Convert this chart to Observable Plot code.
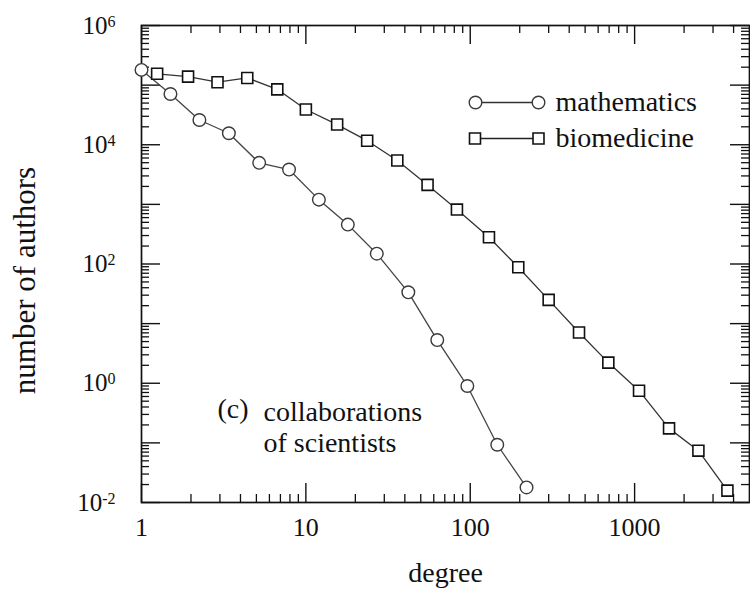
<!DOCTYPE html>
<html><head><meta charset="utf-8">
<script src="https://cdn.jsdelivr.net/npm/d3@7"></script>
<script src="https://cdn.jsdelivr.net/npm/@observablehq/plot@0.6"></script>
<style>body{margin:0;background:#fff;} svg{display:block} svg text{font-family:'Liberation Serif','Times New Roman',Times,serif;}</style>
</head><body><div id="chart"></div>
<script>
// ---- data ----
const mathDegree  = [1, 1.5, 2.25, 3.4, 5.2, 7.9, 12, 18, 27, 42, 63, 96, 146, 220];
const mathAuthors = [1.8e5, 7.1e4, 2.6e4, 1.56e4, 4970, 3840, 1200, 458, 149, 33.5, 5.3, 0.9, 0.093, 0.0179];
const bioDegree   = [1.245, 1.92, 2.9, 4.4, 6.7, 10, 15.5, 23.6, 36, 55, 83, 130, 196, 300, 459, 692, 1064, 1620, 2444, 3670];
const bioAuthors  = [1.55e5, 1.39e5, 1.12e5, 1.32e5, 8.5e4, 3.9e4, 2.18e4, 1.17e4, 5430, 2120, 818, 281, 88, 25, 7.1, 2.22, 0.75, 0.175, 0.074, 0.0158];
const seriesNames = ["mathematics", "biomedicine"];
const xTickLabels = [1, 10, 100, 1000];
const yTickLabels = [1e-2, 1e0, 1e2, 1e4, 1e6];
const yExponents  = ["-2", "0", "2", "4", "6"];
const xLabel = "degree";
const yLabel = "number of authors";
const panelTag = "(c)";
const panelText = "collaborations\nof scientists";

// ---- tick positions ----
const xMajor = [1, 10, 100, 1000];
const xMinor = [];
for (const dec of [1, 10, 100, 1000]) for (let k = 2; k <= 9; k++) if (dec * k < 5000) xMinor.push(dec * k);
const yMajor = [];
const yMinor = [];
for (let e = -2; e <= 6; e++) {
  yMajor.push(Math.pow(10, e));
  if (e < 6) for (let k = 2; k <= 9; k++) yMinor.push(k * Math.pow(10, e));
}

const W = 750, H = 599, mL = 141, mR = 1, mT = 25, mB = 97;
const pw = W - mL - mR, ph = H - mT - mB;
const font = "'Liberation Serif', 'Times New Roman', Times, serif";
const ink = "#111";
const math = mathDegree.map((d, i) => ({x: d, y: mathAuthors[i]}));
const bio = bioDegree.map((d, i) => ({x: d, y: bioAuthors[i]}));

const circleStyle = {symbol: "circle", r: 6.3, fill: "white", stroke: "#3a3a3a", strokeWidth: 1.4};
const squareStyle = {symbol: "square", r: 6.2, fill: "white", stroke: "#111", strokeWidth: 1.6};
const legendLine = {draw(ctx) { ctx.moveTo(-31.5, 0); ctx.lineTo(31.5, 0); }};
const txt = {fontFamily: font, fill: ink};

const chart = Plot.plot({
  width: W, height: H,
  marginLeft: mL, marginRight: mR, marginTop: mT, marginBottom: mB,
  style: "background:#fff;color:#111;font-family:" + font + ";",
  x: {type: "log", domain: [1, 5000], axis: null},
  y: {type: "log", domain: [1e-2, 1e6], axis: null},
  marks: [
    // ticks (inward, mirrored)
    Plot.tickX(xMajor, {x: d => d, insetTop: ph - 19, stroke: ink, strokeWidth: 1.4}),
    Plot.tickX(xMajor, {x: d => d, insetBottom: ph - 19, stroke: ink, strokeWidth: 1.4}),
    Plot.tickX(xMinor, {x: d => d, insetTop: ph - 8, stroke: ink, strokeWidth: 1.3}),
    Plot.tickX(xMinor, {x: d => d, insetBottom: ph - 8, stroke: ink, strokeWidth: 1.3}),
    Plot.tickY(yMajor, {y: d => d, insetRight: pw - 19, stroke: ink, strokeWidth: 1.4}),
    Plot.tickY(yMajor, {y: d => d, insetLeft: pw - 19, stroke: ink, strokeWidth: 1.4}),
    Plot.tickY(yMinor, {y: d => d, insetRight: pw - 8, stroke: ink, strokeWidth: 1.3}),
    Plot.tickY(yMinor, {y: d => d, insetLeft: pw - 8, stroke: ink, strokeWidth: 1.3}),
    Plot.frame({stroke: ink, strokeWidth: 1.7}),
    // tick labels
    Plot.text(xTickLabels, {x: d => d, text: d => String(d), frameAnchor: "bottom", textAnchor: "middle", lineAnchor: "top", dy: 15, fontSize: 26, ...txt}),
    Plot.text(yTickLabels, {y: d => d, text: (d, i) => "10^" + yExponents[i], frameAnchor: "left", textAnchor: "end", dx: -26, fontSize: 25, ...txt}),
    // axis labels
    Plot.text([xLabel], {text: d => d, frameAnchor: "bottom", textAnchor: "middle", dy: 79, fontSize: 28, ...txt}),
    Plot.text([yLabel], {text: d => d, frameAnchor: "left", textAnchor: "middle", rotate: -90, dx: -116, dy: 16.5, fontSize: 31, ...txt}),
    // series
    Plot.line(math, {x: "x", y: "y", stroke: "#444", strokeWidth: 1.3}),
    Plot.line(bio, {x: "x", y: "y", stroke: "#333", strokeWidth: 1.3}),
    Plot.dot(math, {x: "x", y: "y", ...circleStyle}),
    Plot.dot(bio, {x: "x", y: "y", ...squareStyle}),
    // legend
    Plot.dot([seriesNames[0]], {frameAnchor: "top-left", dx: 365.5, dy: 77, symbol: legendLine, fill: "none", stroke: "#333", strokeWidth: 1.4}),
    Plot.dot([seriesNames[0]], {frameAnchor: "top-left", dx: 334, dy: 77, ...circleStyle}),
    Plot.dot([seriesNames[0]], {frameAnchor: "top-left", dx: 397, dy: 77, ...circleStyle}),
    Plot.text([seriesNames[0]], {text: d => d, frameAnchor: "top-left", dx: 414, dy: 77, textAnchor: "start", lineAnchor: "middle", fontSize: 28, ...txt}),
    Plot.dot([seriesNames[1]], {frameAnchor: "top-left", dx: 365.5, dy: 113, symbol: legendLine, fill: "none", stroke: "#222", strokeWidth: 1.4}),
    Plot.dot([seriesNames[1]], {frameAnchor: "top-left", dx: 333.5, dy: 113, ...squareStyle}),
    Plot.dot([seriesNames[1]], {frameAnchor: "top-left", dx: 397, dy: 113, ...squareStyle}),
    Plot.text([seriesNames[1]], {text: d => d, frameAnchor: "top-left", dx: 414, dy: 113, textAnchor: "start", lineAnchor: "middle", fontSize: 28, ...txt}),
    // panel annotation
    Plot.text([panelTag], {text: d => d, frameAnchor: "top-left", dx: 76, dy: 373, lineAnchor: "top", textAnchor: "start", fontSize: 28, ...txt}),
    Plot.text([panelText], {text: d => d, frameAnchor: "top-left", dx: 122, dy: 373, lineAnchor: "top", textAnchor: "start", lineHeight: 1.12, fontSize: 28, ...txt})
  ]
});

// superscript exponents on the y tick labels
d3.select(chart).selectAll("text").each(function () {
  const t = d3.select(this);
  const s = t.text();
  if (s.indexOf("^") < 0) return;
  const [base, exp] = s.split("^");
  t.text(null);
  t.append("tspan").text(base);
  t.append("tspan").attr("dy", -7).attr("font-size", 16).text(exp);
});

document.getElementById("chart").appendChild(chart);
</script>
</body></html>
